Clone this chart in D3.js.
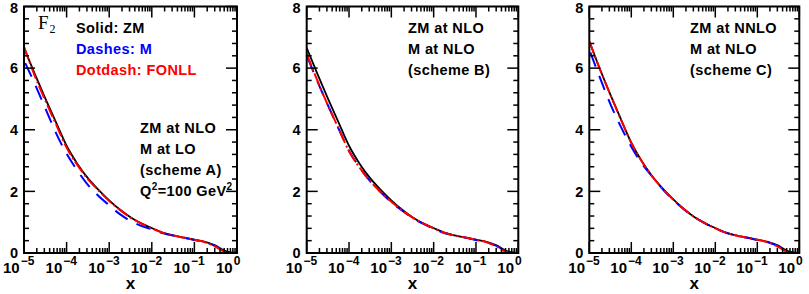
<!DOCTYPE html>
<html>
<head>
<meta charset="utf-8">
<script src="https://cdn.jsdelivr.net/npm/d3@7"></script>
<style>
  body { margin: 0; background: #fff; }
  svg { display: block; }
</style>
</head>
<body>
<div id="chart"></div>
<script>
// x grid (quarter decades), F2 values
const xGrid = [1e-5, 1.78e-5, 3.16e-5, 5.62e-5, 1e-4, 1.78e-4, 3.16e-4, 5.62e-4,
               1e-3, 1.78e-3, 3.16e-3, 5.62e-3, 0.01, 0.0178, 0.0316, 0.0562,
               0.1, 0.178, 0.316, 0.5, 0.7, 1];

const zmNLO  = [6.66, 5.82, 5.02, 4.25, 3.48, 2.90, 2.43, 2.05, 1.71, 1.41, 1.16, 0.96,
                0.81, 0.66, 0.57, 0.50, 0.43, 0.36, 0.24, 0.08, 0.02, 0.00];
const zmNNLO = [6.87, 5.98, 5.15, 4.35, 3.58, 2.98, 2.49, 2.09, 1.74, 1.43, 1.17, 0.97,
                0.81, 0.66, 0.57, 0.50, 0.43, 0.36, 0.24, 0.08, 0.02, 0.00];

const mLO_A  = [6.25, 5.50, 4.70, 3.90, 3.22, 2.68, 2.21, 1.85, 1.55, 1.26, 1.04, 0.88,
                0.77, 0.65, 0.57, 0.50, 0.42, 0.35, 0.22, 0.07, 0.01, 0.00];
const fonllA = [6.70, 5.76, 4.95, 4.18, 3.42, 2.86, 2.40, 2.03, 1.69, 1.40, 1.15, 0.96,
                0.80, 0.66, 0.57, 0.50, 0.43, 0.35, 0.20, 0.04, 0.00, 0.00];

const mNLO_B = [6.42, 5.58, 4.80, 4.05, 3.32, 2.78, 2.33, 1.97, 1.65, 1.38, 1.14, 0.95,
                0.79, 0.65, 0.57, 0.50, 0.42, 0.35, 0.22, 0.07, 0.01, 0.00];
const fonllB = [6.47, 5.60, 4.80, 4.05, 3.30, 2.77, 2.33, 1.98, 1.66, 1.39, 1.15, 0.96,
                0.80, 0.66, 0.57, 0.50, 0.43, 0.35, 0.20, 0.04, 0.00, 0.00];

const mNLO_C = [6.60, 5.70, 4.84, 4.10, 3.45, 2.90, 2.48, 2.07, 1.72, 1.42, 1.17, 0.97,
                0.80, 0.66, 0.57, 0.50, 0.42, 0.35, 0.22, 0.07, 0.01, 0.00];
const fonllC = [6.87, 5.97, 5.14, 4.34, 3.57, 2.97, 2.48, 2.08, 1.73, 1.43, 1.17, 0.97,
                0.80, 0.66, 0.57, 0.50, 0.43, 0.35, 0.20, 0.04, 0.00, 0.00];

const yTicks = [0, 2, 4, 6, 8];
const xLabelExps = ["−5", "−4", "−3", "−2", "−1", "0"];

const legendLines = [
  ["Solid: ZM", "#000"],
  ["Dashes: M", "#0000ff"],
  ["Dotdash: FONLL", "#ff0000"]
];

const notesA = ["ZM at NLO", "M at LO", "(scheme A)", "Q^2=100 GeV^2"];
const notesB = ["ZM at NLO", "M at NLO", "(scheme B)"];
const notesC = ["ZM at NNLO", "M at NLO", "(scheme C)"];

const W = 809, H = 294;
const plotTop = 6.5, plotBottom = 253;

const panels = [
  { left: 24,    right: 237,   zm: zmNLO,  m: mLO_A,  fonll: fonllA, notes: notesA, nx: 140, ny: 133 },
  { left: 306.7, right: 518.3, zm: zmNLO,  m: mNLO_B, fonll: fonllB, notes: notesB, nx: 408, ny: 33 },
  { left: 589.3, right: 799.3, zm: zmNNLO, m: mNLO_C, fonll: fonllC, notes: notesC, nx: 690, ny: 33 }
];

const svg = d3.select("#chart").append("svg")
  .attr("width", W)
  .attr("height", H)
  .attr("viewBox", `0 0 ${W} ${H}`);

const sans = "'Liberation Sans', Arial, sans-serif";

const y = d3.scaleLinear().domain([0, 8]).range([plotBottom, plotTop]);

panels.forEach((p, pi) => {
  const x = d3.scaleLog().domain([1e-5, 1]).range([p.left, p.right]);
  const g = svg.append("g");

  const clipId = "clip" + pi;
  svg.append("clipPath").attr("id", clipId)
    .append("rect")
    .attr("x", p.left).attr("y", plotTop)
    .attr("width", p.right - p.left).attr("height", plotBottom - plotTop);

  // curves
  const line = d3.line()
    .x((d, i) => x(xGrid[i]))
    .y(d => y(d))
    .curve(d3.curveMonotoneX);

  const curves = g.append("g").attr("clip-path", `url(#${clipId})`);
  curves.append("path")
    .attr("d", line(p.zm))
    .attr("fill", "none")
    .attr("stroke", "#000")
    .attr("stroke-width", 1.8);
  curves.append("path")
    .attr("d", line(p.m))
    .attr("fill", "none")
    .attr("stroke", "#0000ff")
    .attr("stroke-width", 2)
    .attr("stroke-dasharray", "15,10")
    .attr("stroke-dashoffset", -3);
  curves.append("path")
    .attr("d", line(p.fonll))
    .attr("fill", "none")
    .attr("stroke", "#ff0000")
    .attr("stroke-width", 2)
    .attr("stroke-dasharray", "13,3,2,3");

  // frame
  g.append("rect")
    .attr("x", p.left).attr("y", plotTop)
    .attr("width", p.right - p.left).attr("height", plotBottom - plotTop)
    .attr("fill", "none")
    .attr("stroke", "#000")
    .attr("stroke-width", 2);

  // y ticks (major every 2, minor every 0.4), both sides
  const yMinor = d3.range(0, 8.01, 0.4);
  yMinor.forEach(v => {
    const major = Math.abs(v / 2 - Math.round(v / 2)) < 1e-6;
    const len = major ? 11 : 5;
    const yy = y(v);
    g.append("line").attr("x1", p.left).attr("x2", p.left + len)
      .attr("y1", yy).attr("y2", yy).attr("stroke", "#000").attr("stroke-width", 1.5);
    g.append("line").attr("x1", p.right).attr("x2", p.right - len)
      .attr("y1", yy).attr("y2", yy).attr("stroke", "#000").attr("stroke-width", 1.5);
  });

  yTicks.forEach(v => {
    g.append("text")
      .attr("x", p.left - 6)
      .attr("y", Math.max(y(v), 8))
      .attr("dy", "0.36em")
      .attr("text-anchor", "end")
      .attr("font-family", sans)
      .attr("font-weight", "bold")
      .attr("font-size", 14.5)
      .text(v);
  });

  // x ticks, top and bottom
  x.ticks().forEach(v => {
    const lg = Math.log10(v);
    const major = Math.abs(lg - Math.round(lg)) < 1e-6;
    const len = major ? 11 : 5;
    const xx = x(v);
    g.append("line").attr("x1", xx).attr("x2", xx)
      .attr("y1", plotBottom).attr("y2", plotBottom - len).attr("stroke", "#000").attr("stroke-width", 1.5);
    g.append("line").attr("x1", xx).attr("x2", xx)
      .attr("y1", plotTop).attr("y2", plotTop + len).attr("stroke", "#000").attr("stroke-width", 1.5);
  });

  xLabelExps.forEach((e, i) => {
    const xx = x(Math.pow(10, i - 5));
    const t = g.append("text")
      .attr("x", xx - 21)
      .attr("y", 273)
      .attr("font-family", sans)
      .attr("font-weight", "bold")
      .attr("font-size", 15);
    t.append("tspan").text("10");
    t.append("tspan").attr("font-size", 12).attr("dy", -8).attr("dx", 1).text(e);
  });

  g.append("text")
    .attr("x", (p.left + p.right) / 2)
    .attr("y", 289)
    .attr("text-anchor", "middle")
    .attr("font-family", sans)
    .attr("font-weight", "bold")
    .attr("font-size", 17)
    .text("x");

  // panel notes, "^d" marks a superscript digit
  p.notes.forEach((s, i) => {
    const t = g.append("text")
      .attr("x", p.nx)
      .attr("y", p.ny + i * 21)
      .attr("font-family", sans)
      .attr("font-weight", "bold")
      .attr("font-size", 14.5)
      .attr("letter-spacing", 0.4);
    let shift = 0;
    s.split(/(\^\d)/).forEach(part => {
      if (!part) return;
      if (part[0] === "^") {
        t.append("tspan").attr("font-size", 10).attr("dy", -6 - shift).text(part.slice(1));
        shift = -6;
      } else {
        t.append("tspan").attr("dy", -shift).text(part);
        shift = 0;
      }
    });
  });
});

// F2 label and legend in first panel
const f2 = svg.append("text")
  .attr("x", 38)
  .attr("y", 29)
  .attr("font-family", "'Liberation Serif', 'Times New Roman', serif")
  .attr("font-size", 19);
f2.append("tspan").text("F");
f2.append("tspan").attr("font-size", 12).attr("dy", 4).attr("dx", 1).text("2");

legendLines.forEach((d, i) => {
  svg.append("text")
    .attr("x", 76)
    .attr("y", 33 + i * 21)
    .attr("font-family", sans)
    .attr("font-weight", "bold")
    .attr("font-size", 14.5)
    .attr("letter-spacing", 0.4)
    .attr("fill", d[1])
    .text(d[0]);
});
</script>
</body>
</html>
